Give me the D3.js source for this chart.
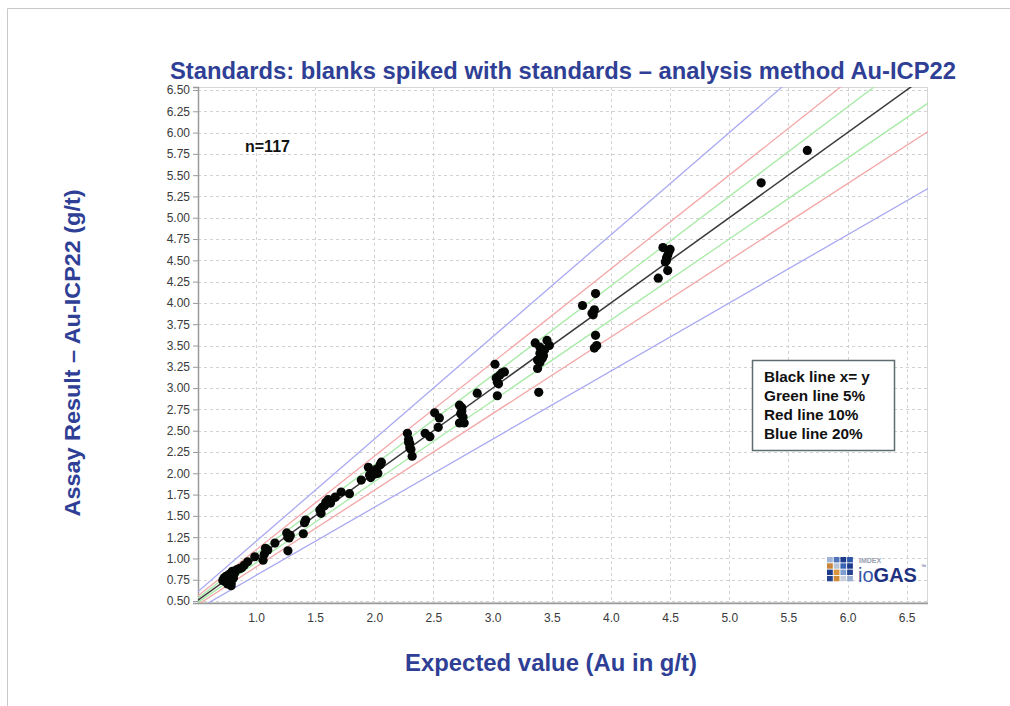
<!DOCTYPE html>
<html>
<head>
<meta charset="utf-8">
<script src="https://cdn.jsdelivr.net/npm/d3@7"></script>
<style>
  html, body { margin: 0; padding: 0; background: #fff; }
  svg { display: block; font-family: "Liberation Sans", Arial, sans-serif; }
</style>
</head>
<body>
<svg id="chart" width="1010" height="706"></svg>
<script>
// Expected (certified) value of each standard, g/t Au
const expected = [
  0.72, 0.73, 0.74, 0.75, 0.75, 0.76, 0.77, 0.77, 0.78, 0.78, 0.79, 0.79,
  0.80, 0.80, 0.81, 0.82, 0.84, 0.86, 0.88, 0.90, 0.93, 0.76, 0.79, 0.74,
  0.99, 1.06, 1.07, 1.08, 1.10, 1.16, 1.26, 1.27, 1.28, 1.27, 1.29,
  1.40, 1.41, 1.42, 1.54, 1.55, 1.56, 1.58, 1.59, 1.61, 1.63, 1.67, 1.72, 1.79,
  1.89, 1.95, 1.96, 1.97, 1.98, 2.00, 2.02, 2.03, 2.05, 2.06,
  2.28, 2.29, 2.30, 2.30, 2.31, 2.32, 2.29, 2.43, 2.47, 2.51, 2.55, 2.54,
  2.72, 2.74, 2.73, 2.75, 2.72, 2.76, 2.74, 2.87,
  3.02, 3.03, 3.04, 3.05, 3.04, 3.08, 3.10, 3.06,
  3.36, 3.40, 3.46, 3.48, 3.40, 3.43, 3.38, 3.40, 3.38, 3.42, 3.39, 3.44,
  3.76, 3.87, 3.86, 3.85, 3.84, 3.87, 3.86, 3.88,
  4.44, 4.50, 4.48, 4.47, 4.46, 4.48, 4.40, 4.49, 4.47,
  5.27, 5.66
];

// Assay result returned by Au-ICP22, g/t
const assay = [
  0.74, 0.77, 0.73, 0.79, 0.75, 0.80, 0.76, 0.72, 0.82, 0.78, 0.68, 0.74,
  0.85, 0.80, 0.77, 0.83, 0.87, 0.88, 0.89, 0.92, 0.96, 0.70, 0.71, 0.78,
  1.02, 0.98, 1.05, 1.12, 1.10, 1.18, 1.30, 1.25, 1.24, 1.09, 1.27,
  1.29, 1.42, 1.45, 1.57, 1.53, 1.60, 1.62, 1.66, 1.69, 1.65, 1.72, 1.78, 1.76,
  1.92, 2.07, 1.98, 1.95, 2.02, 1.99, 2.05, 2.00, 2.10, 2.13,
  2.47, 2.40, 2.35, 2.30, 2.28, 2.20, 2.36, 2.47, 2.43, 2.71, 2.65, 2.54,
  2.80, 2.77, 2.70, 2.66, 2.59, 2.59, 2.73, 2.94,
  3.28, 3.12, 3.07, 3.05, 2.91, 3.18, 3.19, 3.15,
  3.53, 3.48, 3.56, 3.50, 3.41, 3.38, 3.33, 3.30, 3.23, 3.35, 2.95, 3.45,
  3.97, 4.11, 3.92, 3.86, 3.88, 3.62, 3.47, 3.50,
  4.65, 4.63, 4.56, 4.50, 4.48, 4.38, 4.29, 4.60, 4.53,
  5.41, 5.79
];

// Tolerance envelopes around the 1:1 line (assay = ratio × expected)
const lineRatios = [1.20, 0.80, 1.10, 0.90, 1.05, 0.95, 1.00];
const lineColors = ["#a9a9f2", "#a9a9f2", "#f4a6a6", "#f4a6a6", "#a6eaa6", "#a6eaa6", "#3a3a3a"];

const xTicks = [1.0, 1.5, 2.0, 2.5, 3.0, 3.5, 4.0, 4.5, 5.0, 5.5, 6.0, 6.5];
const yTicks = [0.50, 0.75, 1.00, 1.25, 1.50, 1.75, 2.00, 2.25, 2.50, 2.75, 3.00, 3.25,
                3.50, 3.75, 4.00, 4.25, 4.50, 4.75, 5.00, 5.25, 5.50, 5.75, 6.00, 6.25, 6.50];

const legendLines = ["Black line x= y", "Green line 5%", "Red line 10%", "Blue line 20%"];

const svg = d3.select("#chart");
const plot = { left: 198, right: 928, top: 87, bottom: 603 };

const x = d3.scaleLinear().domain([0.51, 6.68]).range([plot.left, plot.right]);
const y = d3.scaleLinear().domain([0.477, 6.535]).range([plot.bottom, plot.top]);

// Slide frame
svg.append("path")
  .attr("d", "M7.5,706 V8.5 H1010")
  .attr("fill", "none").attr("stroke", "#c9c9c9").attr("stroke-width", 1);

svg.append("defs").append("clipPath").attr("id", "plotClip")
  .append("rect")
  .attr("x", plot.left).attr("y", plot.top)
  .attr("width", plot.right - plot.left).attr("height", plot.bottom - plot.top);

// Grid
const grid = svg.append("g").attr("stroke", "#d2d2d2").attr("stroke-dasharray", "3,3").attr("stroke-width", 1);
grid.selectAll("line.v").data(xTicks).join("line")
  .attr("x1", d => Math.round(x(d)) + 0.5).attr("x2", d => Math.round(x(d)) + 0.5)
  .attr("y1", plot.top).attr("y2", plot.bottom);
grid.selectAll("line.h").data(yTicks).join("line")
  .attr("y1", d => Math.round(y(d)) + 0.5).attr("y2", d => Math.round(y(d)) + 0.5)
  .attr("x1", plot.left).attr("x2", plot.right);

// Plot border
svg.append("rect")
  .attr("x", plot.left + 0.5).attr("y", plot.top + 0.5)
  .attr("width", plot.right - plot.left - 1).attr("height", plot.bottom - plot.top - 1)
  .attr("fill", "none").attr("stroke", "#d6d6d6");

// Axes
const yAxis = d3.axisLeft(y).tickValues(yTicks).tickFormat(d3.format(".2f")).tickSize(5).tickPadding(3);
const gy = svg.append("g").attr("transform", `translate(${plot.left},0)`).call(yAxis);
const xAxis = d3.axisBottom(x).tickValues(xTicks).tickFormat(d3.format(".1f")).tickSize(0).tickPadding(10);
const gx = svg.append("g").attr("transform", `translate(0,${plot.bottom})`).call(xAxis);
[gx, gy].forEach(g => {
  g.select(".domain").attr("stroke", "#9a9a9a").attr("stroke-width", 1.5);
  g.selectAll(".tick line").attr("stroke", "#9a9a9a");
  g.selectAll(".tick text").attr("fill", "#3a3a3a").attr("font-size", 12)
    .attr("font-family", "Liberation Sans, Arial, sans-serif");
});
gx.select(".domain").attr("d", `M${plot.left},0.5H${plot.right}`);

// Reference lines
const lines = svg.append("g").attr("clip-path", "url(#plotClip)");
const xd = x.domain();
lines.selectAll("line").data(lineRatios).join("line")
  .attr("x1", x(xd[0])).attr("y1", d => y(xd[0] * d))
  .attr("x2", x(xd[1])).attr("y2", d => y(xd[1] * d))
  .attr("stroke", (d, i) => lineColors[i])
  .attr("stroke-width", (d, i) => d === 1 ? 1.5 : 1.3);

// Samples
svg.append("g").attr("clip-path", "url(#plotClip)")
  .selectAll("circle").data(expected).join("circle")
  .attr("cx", (d, i) => x(d)).attr("cy", (d, i) => y(assay[i]))
  .attr("r", 4.6).attr("fill", "#050705");

// Sample count
svg.append("text").attr("x", 245).attr("y", 152)
  .attr("font-size", 16).attr("font-weight", "bold").attr("fill", "#111")
  .text("n=" + expected.length);

// Legend box
const lg = svg.append("g");
lg.append("rect").attr("x", 752.5).attr("y", 360.5).attr("width", 142).attr("height", 90)
  .attr("fill", "#fff").attr("stroke", "#5d6d70").attr("stroke-width", 1.5);
lg.selectAll("text").data(legendLines).join("text")
  .attr("x", 764).attr("y", (d, i) => 382 + i * 19)
  .attr("font-size", 15.3).attr("font-weight", "bold").attr("fill", "#111")
  .text(d => d);

// Titles
const titleColor = "#2f3f96";
svg.append("text").attr("x", 563).attr("y", 79).attr("text-anchor", "middle")
  .attr("font-size", 23).attr("font-weight", "bold").attr("fill", titleColor)
  .attr("textLength", 786).attr("lengthAdjust", "spacingAndGlyphs")
  .text("Standards: blanks spiked with standards – analysis method Au-ICP22");
svg.append("text").attr("x", 551).attr("y", 671).attr("text-anchor", "middle")
  .attr("font-size", 23).attr("font-weight", "bold").attr("fill", titleColor)
  .attr("textLength", 292).attr("lengthAdjust", "spacingAndGlyphs")
  .text("Expected value (Au in g/t)");
svg.append("text").attr("transform", "translate(80,353) rotate(-90)").attr("text-anchor", "middle")
  .attr("font-size", 22).attr("font-weight", "bold").attr("fill", titleColor)
  .attr("textLength", 327).attr("lengthAdjust", "spacingAndGlyphs")
  .text("Assay Result – Au-ICP22 (g/t)");

// Software badge
const badge = svg.append("g").attr("transform", "translate(827,557)");
const tileColors = [
  ["#9fb3d6", "#4f72b8", "#1e3a8a", "#2d56a8"],
  ["#c8843a", "#b9c3d6", "#3a64b4", "#1e3a8a"],
  ["#1e3a8a", "#d9953e", "#7f9ed0", "#24428f"],
  ["#26448f", "#cf8a36", "#c9d0dc", "#9aaed2"]
];
tileColors.forEach((row, r) => row.forEach((c, k) => {
  badge.append("rect").attr("x", k * 6.7).attr("y", r * 6.3)
    .attr("width", 5.8).attr("height", 5.4).attr("fill", c);
}));
badge.append("text").attr("x", 32).attr("y", 6).attr("font-size", 7).attr("font-weight", "bold")
  .attr("fill", "#9aa0b0").text("IMDEX");
const logoText = badge.append("text").attr("x", 31).attr("y", 25).attr("font-size", 20);
logoText.append("tspan").attr("fill", "#3356a8").text("io");
logoText.append("tspan").attr("fill", "#1f3280").attr("font-weight", "bold").text("GAS");
badge.append("text").attr("x", 94).attr("y", 11).attr("font-size", 5).attr("fill", "#1f3280").text("™");
</script>
</body>
</html>
